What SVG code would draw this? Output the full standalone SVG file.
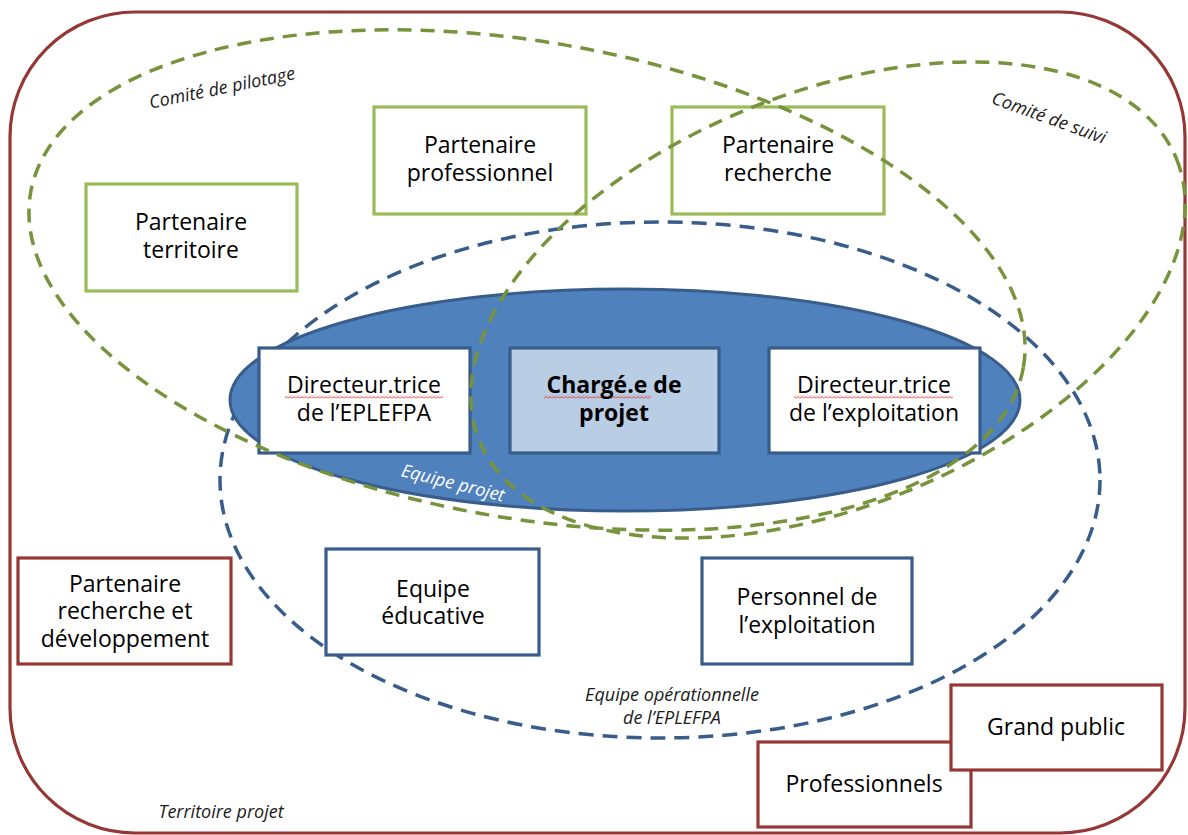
<svg xmlns="http://www.w3.org/2000/svg" width="1188" height="835" viewBox="0 0 1188 835">
<defs>
<pattern id="squig" x="0" y="0" width="4" height="3" patternUnits="userSpaceOnUse">
<polyline points="0,2.4 2,0.6 4,2.4" fill="none" stroke="#e8322e" stroke-width="0.9"/>
</pattern>
<style>
.bg{fill:#ffffff}
.outer{fill:none;stroke:#953735;stroke-width:3.2}
.gdash{fill:none;stroke:#77933C;stroke-width:3.5;stroke-dasharray:14 9}
.bdash{fill:none;stroke:#385D8A;stroke-width:3.5;stroke-dasharray:15 9}
.team{fill:#4F81BD;stroke:#385D8A;stroke-width:3}
.gbox{fill:#ffffff;stroke:#9BBB59;stroke-width:3.2}
.bbox{fill:#ffffff;stroke:#385D8A;stroke-width:3.2}
.cbox{fill:#B9CDE5;stroke:#385D8A;stroke-width:3.2}
.rbox{fill:#ffffff;stroke:#953735;stroke-width:3.2}
.t{font-family:"Open Sans","Liberation Sans",sans-serif;font-size:23px;fill:#000;text-anchor:middle}
.tb{font-family:"Open Sans","Liberation Sans",sans-serif;font-size:23px;font-weight:bold;fill:#000;text-anchor:middle}
.lab{font-family:"Open Sans","Liberation Sans",sans-serif;font-size:18px;font-style:italic;fill:#1a1a1a;text-anchor:middle}
.labw{font-family:"Open Sans","Liberation Sans",sans-serif;font-size:18px;font-style:italic;fill:#ffffff;text-anchor:middle}
</style>
</defs>
<rect class="bg" x="0" y="0" width="1188" height="835"/>
<g id="territoire-projet">
<rect class="outer" x="10" y="12" width="1175" height="821" rx="125" ry="125"/>
<text class="lab" x="221" y="818">Territoire projet</text>
</g>
<g id="equipe-operationnelle">
<ellipse class="bdash" cx="660" cy="480" rx="440" ry="258"/>
<text class="lab" x="672" y="701">Equipe opérationnelle</text>
<text class="lab" x="672" y="724">de l’EPLEFPA</text>
</g>
<g id="equipe-projet">
<ellipse class="team" cx="625" cy="400" rx="395" ry="111"/>
<text class="labw" x="453" y="489" transform="rotate(14 453 483)">Equipe projet</text>
</g>
<g id="partenaire-territoire">
<rect class="gbox" x="86" y="184" width="211" height="107"/>
<text class="t" x="191" y="230">Partenaire</text>
<text class="t" x="191" y="258">territoire</text>
</g>
<g id="partenaire-professionnel">
<rect class="gbox" x="374" y="107" width="212" height="107"/>
<text class="t" x="480" y="153">Partenaire</text>
<text class="t" x="480" y="181">professionnel</text>
</g>
<g id="partenaire-recherche">
<rect class="gbox" x="672" y="107" width="212" height="107"/>
<text class="t" x="778" y="153">Partenaire</text>
<text class="t" x="778" y="181">recherche</text>
</g>
<g id="directeur-eplefpa">
<rect class="bbox" x="259" y="348" width="211" height="105"/>
<rect x="285" y="395.5" width="158" height="3" fill="url(#squig)"/>
<text class="t" x="364" y="393">Directeur.trice</text>
<text class="t" x="364" y="421">de l’EPLEFPA</text>
</g>
<g id="charge-projet">
<rect class="cbox" x="510" y="348" width="209" height="105"/>
<rect x="544" y="395.5" width="107" height="3" fill="url(#squig)"/>
<text class="tb" x="614" y="393">Chargé.e de</text>
<text class="tb" x="614" y="421">projet</text>
</g>
<g id="directeur-exploitation">
<rect class="bbox" x="769" y="348" width="211" height="105"/>
<rect x="794" y="395.5" width="159" height="3" fill="url(#squig)"/>
<text class="t" x="874" y="393">Directeur.trice</text>
<text class="t" x="874" y="421">de l’exploitation</text>
</g>
<g id="equipe-educative">
<rect class="bbox" x="326" y="549" width="213" height="106"/>
<text class="t" x="433" y="597">Equipe</text>
<text class="t" x="433" y="624">éducative</text>
</g>
<g id="personnel-exploitation">
<rect class="bbox" x="702" y="558" width="210" height="106"/>
<text class="t" x="807" y="605">Personnel de</text>
<text class="t" x="807" y="633">l’exploitation</text>
</g>
<g id="partenaire-rd">
<rect class="rbox" x="18" y="558" width="213" height="106"/>
<text class="t" x="125" y="592">Partenaire</text>
<text class="t" x="125" y="619">recherche et</text>
<text class="t" x="125" y="647">développement</text>
</g>
<g id="professionnels">
<rect class="rbox" x="758" y="742" width="213" height="85"/>
<text class="t" x="864" y="792">Professionnels</text>
</g>
<g id="grand-public">
<rect class="rbox" x="951" y="685" width="211" height="85"/>
<text class="t" x="1056" y="735">Grand public</text>
</g>
<g id="comite-pilotage">
<ellipse class="gdash" cx="527" cy="280" rx="504" ry="238" transform="rotate(10 527 280)"/>
<text class="lab" x="222" y="94" transform="rotate(-11.5 222 88)">Comité de pilotage</text>
</g>
<g id="comite-suivi">
<ellipse class="gdash" cx="828" cy="300" rx="376" ry="207" transform="rotate(-22 828 300)"/>
<text class="lab" x="1049" y="124" transform="rotate(20 1049 118)">Comité de suivi</text>
</g>
<g id="connectors"></g>
</svg>
